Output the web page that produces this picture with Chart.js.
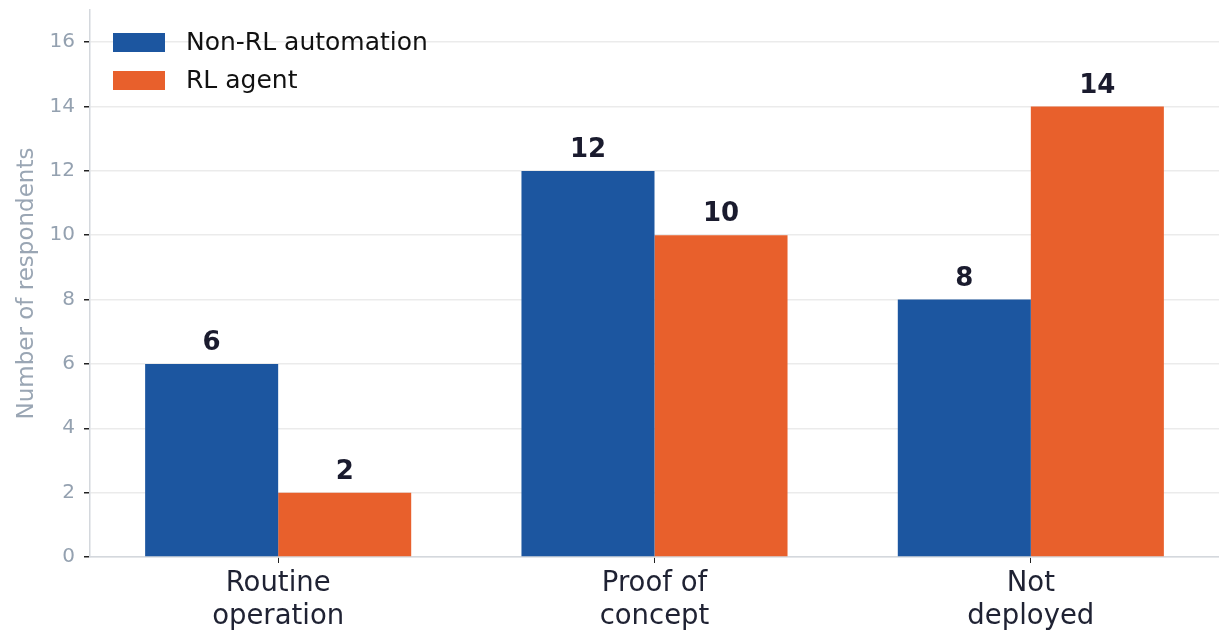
<!DOCTYPE html>
<html>
<head>
<meta charset="utf-8">
<script src="https://cdn.jsdelivr.net/npm/chart.js@4"></script>
<style>
html,body{margin:0;padding:0;background:#fff;}
#wrap{width:1219px;height:630px;}
</style>
</head>
<body>
<div id="wrap"><canvas id="c" width="1219" height="630"></canvas></div>
<script>
const categories = [['Routine', 'operation'], ['Proof of', 'concept'], ['Not', 'deployed']];
const seriesNames = ['Non-RL automation', 'RL agent'];
const nonRL = [6, 12, 8];
const rlAgent = [2, 10, 14];
const yTicks = [0, 2, 4, 6, 8, 10, 12, 14, 16];
const seriesColors = ['#1c56a0', '#e8602c'];

const FONT = "'DejaVu Sans', sans-serif";

const valueLabels = {
  id: 'valueLabels',
  afterDatasetsDraw(chart) {
    const ctx = chart.ctx;
    ctx.save();
    ctx.font = "bold 26px " + FONT;
    ctx.fillStyle = '#1a1b2e';
    ctx.textAlign = 'center';
    ctx.textBaseline = 'alphabetic';
    chart.data.datasets.forEach((ds, i) => {
      const meta = chart.getDatasetMeta(i);
      meta.data.forEach((bar, j) => {
        ctx.fillText(String(ds.data[j]), bar.x, bar.y - 14);
      });
    });
    ctx.restore();
  }
};

const insideLegend = {
  id: 'insideLegend',
  afterDraw(chart) {
    const ctx = chart.ctx;
    const area = chart.chartArea;
    ctx.save();
    ctx.font = "25px " + FONT;
    ctx.textBaseline = 'middle';
    ctx.textAlign = 'left';
    chart.data.datasets.forEach((ds, i) => {
      const bx = area.left + 23;
      const by = area.top + 23 + i * 38;
      ctx.fillStyle = ds.backgroundColor;
      ctx.fillRect(bx, by, 52, 19);
      ctx.fillStyle = '#111111';
      ctx.fillText(ds.label, bx + 73, by + 10);
    });
    ctx.restore();
  }
};

new Chart(document.getElementById('c'), {
  type: 'bar',
  data: {
    labels: categories,
    datasets: [
      { label: seriesNames[0], data: nonRL, backgroundColor: seriesColors[0], borderWidth: 0 },
      { label: seriesNames[1], data: rlAgent, backgroundColor: seriesColors[1], borderWidth: 0 }
    ]
  },
  options: {
    responsive: false,
    animation: false,
    devicePixelRatio: 1,
    layout: { padding: { top: 10, right: 0, left: 0, bottom: 0 } },
    datasets: { bar: { categoryPercentage: 0.707, barPercentage: 1.0 } },
    plugins: {
      tooltip: { enabled: false },
      legend: { display: false }
    },
    scales: {
      x: {
        grid: { display: true, drawOnChartArea: false, drawTicks: true, tickLength: 6, tickColor: '#222', offset: false },
        border: { display: true, color: '#d4d8dd', width: 1.5 },
        ticks: { color: '#1f2233', font: { family: FONT, size: 27.5 }, padding: 4, maxRotation: 0, autoSkip: false },
        afterFit(s) { s.height = 73; s.paddingLeft = 0; s.paddingRight = 0; }
      },
      y: {
        min: 0,
        max: 17,
        afterBuildTicks(s) { s.ticks = yTicks.map(v => ({ value: v })); },
        grid: { color: '#ebebeb', lineWidth: 1.5, tickLength: 6, tickColor: '#222' },
        border: { display: true, color: '#d4d8dd', width: 1.5 },
        ticks: { color: '#94a1b0', font: { family: FONT, size: 20 }, padding: 9 },
        title: { display: true, text: 'Number of respondents', color: '#9aa6b4', font: { family: FONT, size: 23 }, padding: { top: 13, bottom: 0 } },
        afterFit(s) { s.width = 90; s.paddingTop = 0; s.paddingBottom = 0; }
      }
    }
  },
  plugins: [valueLabels, insideLegend]
});
</script>
</body>
</html>
